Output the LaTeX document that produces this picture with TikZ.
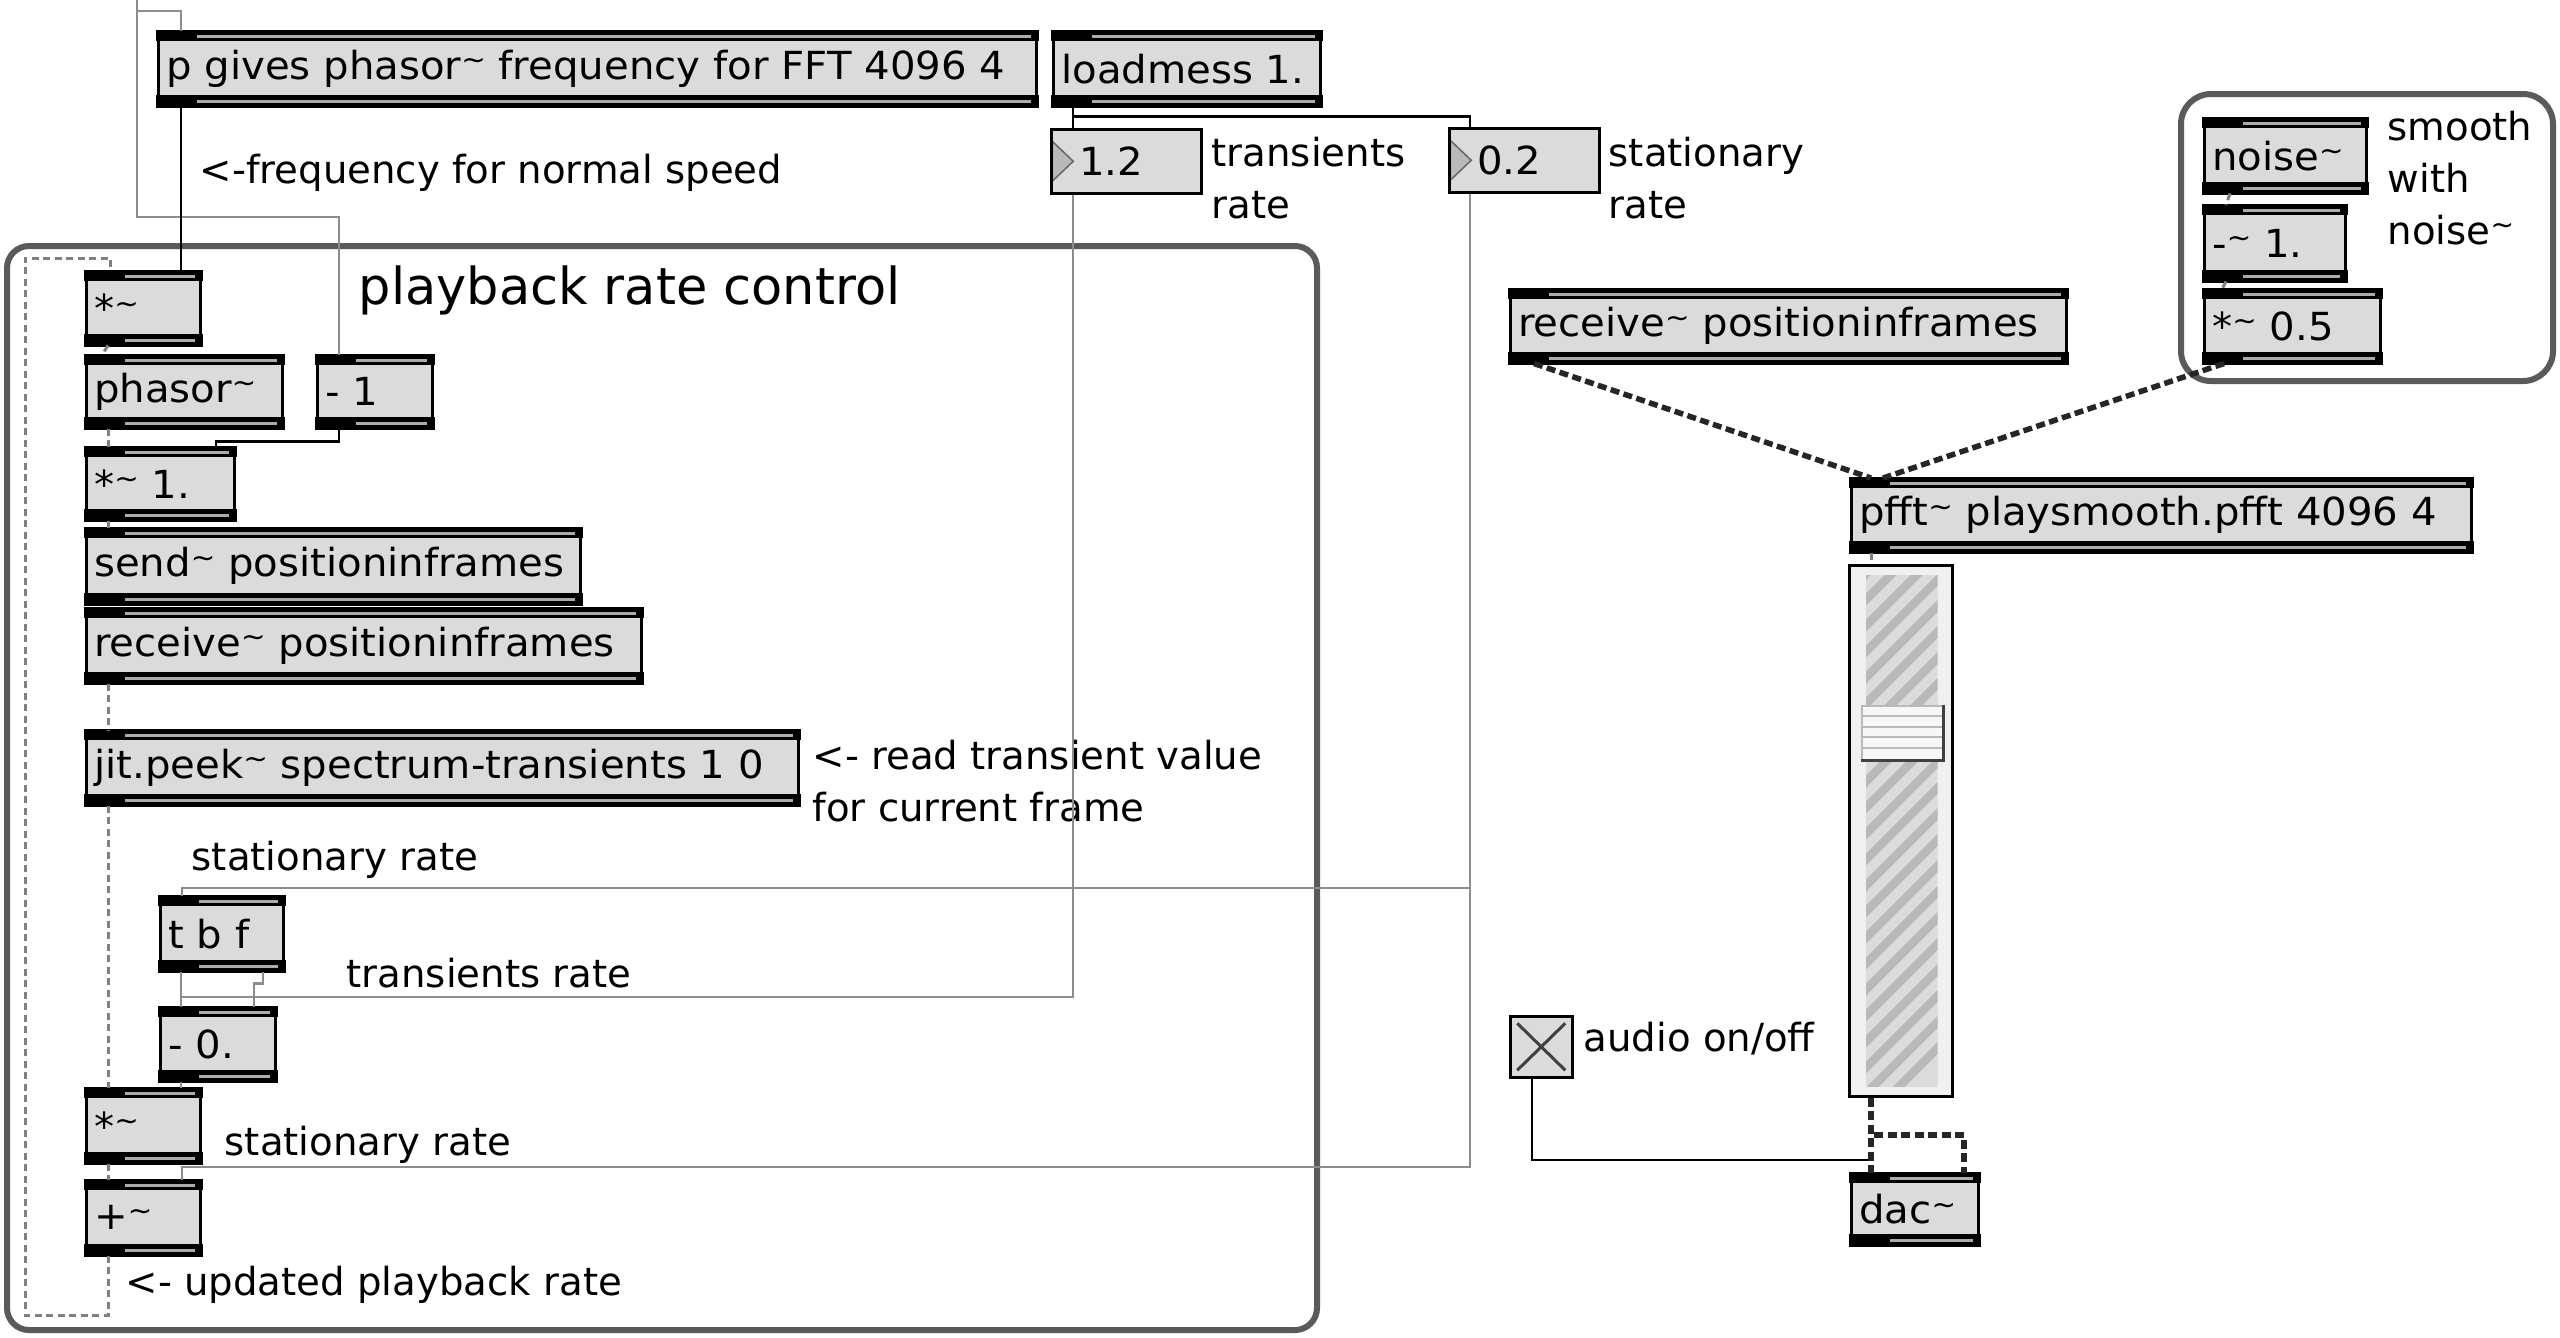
\documentclass[tikz,border=0pt]{standalone}
\usepackage{fontspec}
\setmainfont{DejaVu Sans}
\newfontfamily\objfamily[FakeStretch=1.04]{DejaVu Sans}
\usepackage{tikz}
\usetikzlibrary{calc}
\definecolor{boxgray}{HTML}{DBDBDB}
\definecolor{cordgray}{HTML}{8C8C8C}
\definecolor{panelgray}{HTML}{5A5A5A}
\newcommand{\tld}{{\raisebox{0.45ex}{\fontsize{8}{8}\selectfont\textasciitilde}}}
\newcommand{\objfont}{\objfamily\fontsize{11}{14.8}\selectfont}
\newcommand{\labfont}{\fontsize{11}{14.8}\selectfont}
\tikzset{
    myobj/.style n args={2}{draw, line width=0.25mm, fill=boxgray, anchor=north west,
        inner xsep=0.8mm, inner ysep=0pt, minimum width=#1*0.1mm, text width=#1*0.1mm-1.6mm,
        minimum height=#2*0.1mm, align=left, font=\objfont,
        execute at begin node={\leavevmode\hbox\bgroup}, execute at end node={\egroup}},
    mybar/.style={fill=black},
    mystripe/.style={fill=gray!65},
    mynum/.style n args={2}{draw, line width=0.25mm, fill=boxgray, anchor=north west,
        inner sep=0pt, minimum width=#1*0.1mm, text width=#1*0.1mm,
        minimum height=#2*0.1mm, align=left, font=\objfont,
        path picture={
            \filldraw[fill=gray!55, draw=black!60, line width=0.15mm]
              ([xshift=0.1mm,yshift=-1.2mm]path picture bounding box.north west)
              -- ([xshift=2.2mm]path picture bounding box.west)
              -- ([xshift=0.1mm,yshift=1.2mm]path picture bounding box.south west) -- cycle;
        }},
    mytoggle/.style={draw, line width=0.25mm, fill=boxgray, anchor=north west, inner sep=0pt,
        minimum width=6.2mm, minimum height=6.1mm,
        path picture={
            \draw[black!75, line width=0.3mm] ([shift={(0.7mm,-0.7mm)}]path picture bounding box.north west) -- ([shift={(-0.7mm,0.7mm)}]path picture bounding box.south east);
            \draw[black!75, line width=0.3mm] ([shift={(-0.7mm,-0.7mm)}]path picture bounding box.north east) -- ([shift={(0.7mm,0.7mm)}]path picture bounding box.south west);
        }},
    myslider/.style={draw, line width=0.25mm, fill=gray!12, anchor=north west, inner sep=0pt,
        minimum width=10.3mm, minimum height=53.1mm},
    myknob/.style={draw=gray!55, line width=0.15mm, fill=gray!6, anchor=north west, inner sep=0pt,
        minimum width=8.1mm, minimum height=5.4mm,
        path picture={
            \foreach \k in {1,...,4}
              \draw[gray!55, line width=0.2mm] ([yshift=-\k*1.05mm]path picture bounding box.north west) -- ([yshift=-\k*1.05mm]path picture bounding box.north east);
        }},
    mypanel/.style={draw=panelgray, line width=0.6mm, rounded corners=2.2mm},
    ccord/.style={draw=black, line width=0.25mm},
    gcord/.style={draw=cordgray, line width=0.25mm},
    sig/.style={draw=gray, line width=0.3mm, dash pattern=on 0.7mm off 0.45mm},
    sigthick/.style={draw=black!85, line width=0.55mm, dash pattern=on 0.9mm off 0.45mm}
}

\begin{document}
\begin{tikzpicture}[x=0.1mm, y=-0.1mm]
\tikzset{
    mylabel/.style={anchor=west, inner sep=0pt, align=left, font=\labfont},
    mytitle/.style={anchor=west, inner sep=0pt, font=\fontsize{14.5}{17}\selectfont}
}
  \fill[white] (0,0) rectangle (2560,1337);
  \useasboundingbox (0,0) rectangle (2560,1337);
  \draw[mypanel] (7,246) rectangle (1317,1330);
  \draw[mypanel, rounded corners=3mm] (2181,94) rectangle (2553,381);

  \node[myobj={878}{73}] (pgive) at (157,31) {p gives phasor\tld{} frequency for FFT 4096 4};
  \node[myobj={267}{73}] (loadm) at (1052,31) {loadmess 1.};
  \node[mynum={150}{64}] (numa) at (1050,128) {\hspace*{2.8mm}1.2};
  \node[mynum={150}{64}] (numb) at (1448,127) {\hspace*{2.8mm}0.2};
  \node[mylabel] at (1211,178) {transients\\rate};
  \node[mylabel] at (1608,178) {stationary\\rate};
  \node[mylabel] at (199,173) {<-frequency for normal speed};
  \node[mytitle] at (358,290) {playback rate control};

  \node[myobj={114}{72}] (mula) at (85,271) {*\tld};
  \node[myobj={196}{71}] (phasor) at (85,355) {phasor\tld};
  \node[myobj={115}{71}] (minusa) at (316,355) {- 1};
  \node[myobj={148}{71}] (mulb) at (85,447) {*\tld{} 1.};
  \node[myobj={494}{74}] (send) at (85,528) {send\tld{} positioninframes};
  \node[myobj={555}{73}] (recva) at (85,608) {receive\tld{} positioninframes};
  \node[myobj={712}{73}] (peek) at (85,730) {jit.peek\tld{} spectrum-transients 1 0};
  \node[mylabel] at (812,781) {<- read transient value\\for current frame};
  \node[mylabel] at (191,860) {stationary rate};
  \node[myobj={123}{73}] (tbf) at (159,896) {t b f};
  \node[mylabel] at (346,973) {transients rate};
  \node[myobj={115}{72}] (minusb) at (159,1007) {- 0.};
  \node[myobj={114}{73}] (mulc) at (85,1088) {*\tld};
  \node[mylabel] at (224,1145) {stationary rate};
  \node[myobj={114}{73}] (plus) at (85,1180) {+\tld};
  \node[mylabel] at (125,1285) {<- updated playback rate};

  \node[myobj={556}{72}] (recvb) at (1509,289) {receive\tld{} positioninframes};
  \node[myobj={162}{73}] (noise) at (2203,118) {noise\tld};
  \node[myobj={141}{74}] (minusc) at (2203,205) {-\tld{} 1.};
  \node[myobj={176}{72}] (half) at (2203,289) {*\tld{} 0.5};
  \node[mylabel] at (2387,178) {smooth\\with\\noise\tld};
  \node[myobj={620}{72}] (pfft) at (1850,478) {pfft\tld{} playsmooth.pfft 4096 4};
  \node[myobj={127}{70}] (dac) at (1850,1173) {dac\tld};

  \foreach \n in {pgive,loadm,mula,phasor,minusa,mulb,send,recva,peek,tbf,minusb,mulc,plus,recvb,noise,minusc,half,pfft,dac}{
    \fill[mybar] ($(\n.north west)+(-1,-1)$) rectangle ($(\n.north east)+(1,10)$);
    \fill[mybar] ($(\n.south west)+(-1,1)$) rectangle ($(\n.south east)+(1,-12)$);
    \fill[mystripe] ($(\n.north west)+(40,4)$) rectangle ($(\n.north east)+(-7,7)$);
    \fill[mystripe] ($(\n.south west)+(40,-4)$) rectangle ($(\n.south east)+(-7,-7)$);
  }

  \node[myslider] (slider) at (1848,564) {};
  \begin{scope}
    \clip ($(slider.north west)+(18,11)$) rectangle ($(slider.south east)+(-16,-11)$);
    \fill[gray!28] ($(slider.north west)+(18,11)$) rectangle ($(slider.south east)+(-16,-11)$);
    \foreach \k in {0,...,25}
      \draw[gray!55, line width=0.85mm] ($(slider.south west)+(0,-\k*26+40)$) -- ++(130,-130);
  \end{scope}
  \node[myknob] (knob) at (1861,705) {};
  \draw[black!75, line width=0.3mm] (knob.north east) -- (knob.south east) -- (knob.south west);
  \node[mytoggle] (toggle) at (1509,1015) {};
  \node[mylabel] at (1583,1039) {audio on/off};

  \coordinate (topin) at (137,0);
  \draw[gcord] (topin) |- ($(pgive.north west)+(24,-20)$) -- ($(pgive.north west)+(24,0)$);
  \draw[gcord] (topin) |- ($(minusa.north west)+(23,-138)$) -- ($(minusa.north west)+(23,0)$);
  \draw[ccord] ($(pgive.south west)+(24,0)$) -- ($(mula.north west)+(96,0)$);
  \draw[ccord] ($(minusa.south west)+(23,0)$) -- ++(0,13) -| ($(mulb.north west)+(131,0)$);
  \draw[ccord] ($(loadm.south west)+(21,0)$) -- ($(numa.north west)+(23,0)$);
  \draw[ccord] ($(loadm.south west)+(21,10)$) -| ($(numb.north west)+(22,0)$);
  \draw[ccord] ($(toggle.south west)+(23,0)$) |- ($(dac.north west)+(21,-13)$);

  \draw[gcord] ($(numa.south west)+(23,0)$) |- ($(minusb.north west)+(22,-10)$) -- ($(minusb.north west)+(22,0)$);
  \draw[gcord] ($(tbf.south west)+(22,0)$) -- ($(minusb.north west)+(22,0)$);
  \draw[gcord] ($(tbf.south west)+(104,0)$) -- ++(0,12) -| ($(minusb.north west)+(95,0)$);
  \draw[gcord] ($(numb.south west)+(22,0)$) |- ($(tbf.north west)+(23,-8)$) -- ($(tbf.north west)+(23,0)$);
  \draw[gcord] ($(numb.south west)+(22,0)$) |- ($(plus.north west)+(97,-13)$) -- ($(plus.north west)+(97,0)$);
  \draw[gcord] ($(minusb.south west)+(22,0)$) -- ($(mulc.north west)+(96,0)$);

  \draw[sig] ($(mula.south west)+(23,0)$) -- ($(phasor.north west)+(17,0)$);
  \draw[sig] ($(phasor.south west)+(23,0)$) -- ($(mulb.north west)+(23,0)$);
  \draw[sig] ($(mulb.south west)+(23,0)$) -- ($(send.north west)+(23,0)$);
  \draw[sig] ($(recva.south west)+(23,0)$) -- ($(peek.north west)+(23,0)$);
  \draw[sig] ($(peek.south west)+(23,0)$) -- ($(mulc.north west)+(23,0)$);
  \draw[sig] ($(mulc.south west)+(23,0)$) -- ($(plus.north west)+(23,0)$);
  \draw[sig] ($(plus.south west)+(23,0)$) |- ($(plus.south west)+(-60,60)$) |- ($(mula.north west)+(25,-13)$) -- ($(mula.north west)+(25,0)$);

  \draw[sigthick] ($(recvb.south west)+(25,0)$) -- ($(pfft.north west)+(21,0)$);
  \draw[sigthick] ($(half.south west)+(21,0)$) -- ($(pfft.north west)+(33,0)$);
  \draw[sig] ($(noise.south west)+(27,0)$) -- ($(minusc.north west)+(23,0)$);
  \draw[sig] ($(minusc.south west)+(23,0)$) -- ($(half.north west)+(19,0)$);
  \draw[sig] ($(pfft.south west)+(21,0)$) -- ($(slider.north west)+(23,0)$);
  \draw[sigthick] ($(slider.south west)+(23,0)$) |- ($(dac.north west)+(114,-38)$) -- ($(dac.north west)+(114,0)$);
  \draw[sigthick] ($(slider.south west)+(23,0)$) -- ($(dac.north west)+(21,0)$);
\end{tikzpicture}
\end{document}
